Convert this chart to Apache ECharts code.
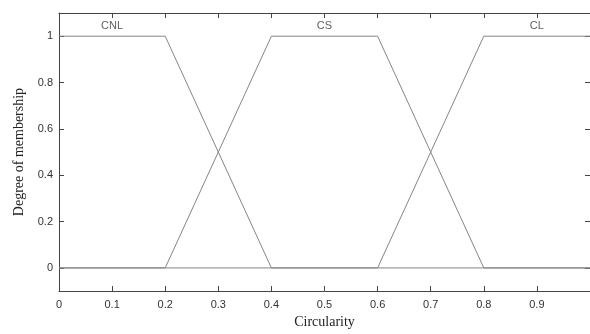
<!DOCTYPE html>
<html><head><meta charset="utf-8">
<script src="https://cdn.jsdelivr.net/npm/echarts@6/dist/echarts.min.js"></script>
<style>html,body{margin:0;padding:0;background:#fff}#c{width:590px;height:334px}</style>
</head><body><div id="c"></div>
<script>
const setNames = ['CNL', 'CS', 'CL'];
const cnlX = [0, 0.2, 0.4, 1];
const cnlY = [1, 1, 0, 0];
const csX = [0, 0.2, 0.4, 0.6, 0.8, 1];
const csY = [0, 0, 1, 1, 0, 0];
const clX = [0, 0.6, 0.8, 1];
const clY = [0, 0, 1, 1];
const setLabelX = [0.1, 0.5, 0.9];
const setLabelY = [1.045, 1.045, 1.045];
const xTicks = [0, 0.1, 0.2, 0.3, 0.4, 0.5, 0.6, 0.7, 0.8, 0.9];
const yTicks = [0, 0.2, 0.4, 0.6, 0.8, 1];

const zip = (xs, ys) => xs.map((x, i) => [x, ys[i]]);
const lineColor = '#858585';
const axisColor = '#444';
const tickFmt = v => String(Math.round(v * 10) / 10);

const chart = echarts.init(document.getElementById('c'));
const baseX = {
  type: 'value', min: 0, max: 1,
  axisLine: { show: true, onZero: false, lineStyle: { color: axisColor, width: 1 } },
  axisTick: { show: true, inside: true, length: 5, customValues: xTicks, lineStyle: { color: axisColor } },
  splitLine: { show: false }
};
const baseY = {
  type: 'value', min: -0.1, max: 1.1,
  axisLine: { show: true, onZero: false, lineStyle: { color: axisColor, width: 1 } },
  axisTick: { show: true, inside: true, length: 5, customValues: yTicks, lineStyle: { color: axisColor } },
  splitLine: { show: false }
};
chart.setOption({
  animation: false,
  grid: { left: 59, top: 13, right: -3, bottom: 38 },
  xAxis: [
    Object.assign({}, baseX, {
      position: 'bottom',
      name: 'Circularity', nameLocation: 'middle', nameGap: 22,
      nameTextStyle: { fontFamily: 'Liberation Serif', fontSize: 14, color: '#222' },
      axisLabel: { customValues: xTicks, formatter: tickFmt, fontFamily: 'Liberation Sans', fontSize: 11, color: '#333', margin: 8 }
    }),
    Object.assign({}, baseX, { position: 'top', axisLabel: { show: false } })
  ],
  yAxis: [
    Object.assign({}, baseY, {
      position: 'left',
      name: 'Degree of membership', nameLocation: 'middle', nameGap: 33,
      nameTextStyle: { fontFamily: 'Liberation Serif', fontSize: 14, color: '#222' },
      axisLabel: { customValues: yTicks, formatter: tickFmt, fontFamily: 'Liberation Sans', fontSize: 11, color: '#333', margin: 6 }
    }),
    Object.assign({}, baseY, { position: 'right', axisLabel: { show: false } })
  ],
  series: [
    { name: setNames[0], type: 'line', data: zip(cnlX, cnlY), symbol: 'none', lineStyle: { color: lineColor, width: 1 } },
    { name: setNames[1], type: 'line', data: zip(csX, csY), symbol: 'none', lineStyle: { color: lineColor, width: 1 } },
    { name: setNames[2], type: 'line', data: zip(clX, clY), symbol: 'none', lineStyle: { color: lineColor, width: 1 } },
    {
      type: 'scatter', symbolSize: 0,
      data: setLabelX.map((x, i) => ({ value: [x, setLabelY[i]], name: setNames[i] })),
      label: { show: true, position: 'inside', formatter: p => p.name, fontFamily: 'Liberation Sans', fontSize: 11, color: '#333' }
    }
  ]
});
</script></body></html>
